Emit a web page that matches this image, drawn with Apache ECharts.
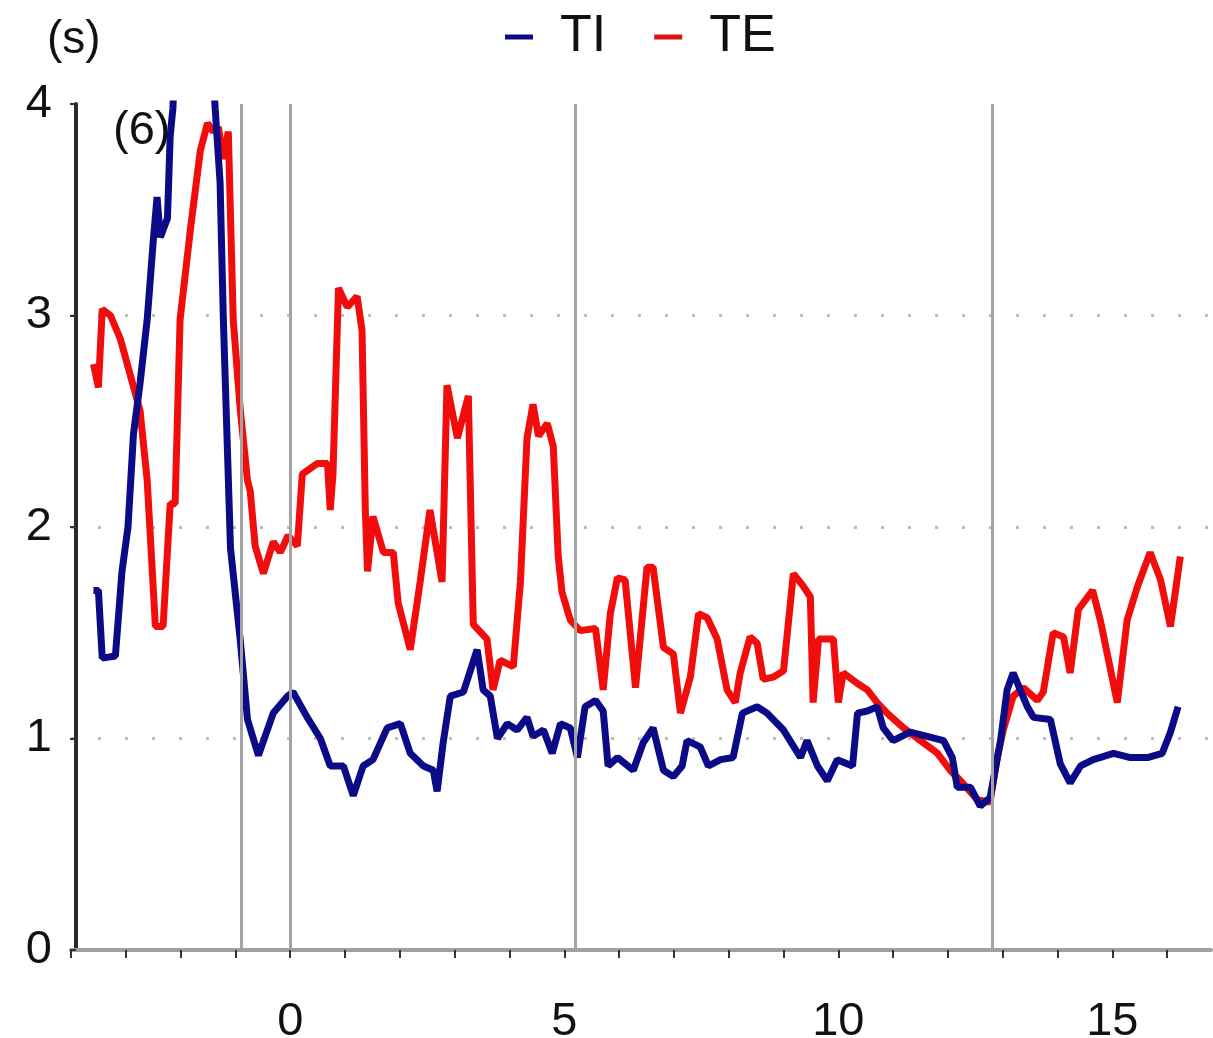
<!DOCTYPE html>
<html>
<head>
<meta charset="utf-8">
<script src="https://cdn.jsdelivr.net/npm/echarts@6/dist/echarts.min.js"></script>
<style>
html,body{margin:0;padding:0;background:#fff;}
#chart{width:1213px;height:1038px;}
</style>
</head>
<body>
<div id="chart"></div>
<script>
// Time axis values (x) and breath durations (s)
const tiTime = [-3.59,-3.50,-3.43,-3.19,-3.07,-2.96,-2.86,-2.74,-2.61,-2.50,-2.43,-2.37,-2.24,-2.19,-2.14,-2.00,-1.80,-1.60,-1.37,-1.28,-1.22,-1.09,-0.91,-0.78,-0.58,-0.31,-0.05,0.05,0.31,0.55,0.73,0.97,1.15,1.33,1.51,1.77,2.01,2.19,2.43,2.61,2.68,2.79,2.92,3.16,3.41,3.52,3.65,3.78,3.96,4.14,4.32,4.43,4.62,4.78,4.93,5.11,5.24,5.38,5.57,5.71,5.80,5.97,6.26,6.44,6.62,6.81,6.99,7.15,7.24,7.48,7.63,7.85,8.08,8.25,8.52,8.70,9.00,9.31,9.43,9.62,9.80,9.98,10.26,10.35,10.53,10.71,10.82,11.00,11.31,11.62,11.92,12.08,12.17,12.41,12.59,12.77,12.96,13.08,13.19,13.45,13.56,13.87,14.05,14.23,14.42,14.65,15.02,15.33,15.64,15.91,16.06,16.20];
const tiValues = [1.70,1.70,1.38,1.39,1.79,2.00,2.44,2.68,2.98,3.35,3.56,3.37,3.46,3.85,3.98,5.0,6.0,5.0,3.98,3.63,2.98,1.90,1.46,1.09,0.92,1.12,1.20,1.22,1.10,1.00,0.87,0.87,0.73,0.87,0.90,1.05,1.07,0.93,0.87,0.85,0.75,0.98,1.20,1.22,1.42,1.23,1.20,1.00,1.07,1.04,1.10,1.01,1.04,0.93,1.07,1.05,0.91,1.15,1.18,1.13,0.87,0.91,0.85,0.98,1.05,0.85,0.82,0.87,0.99,0.96,0.87,0.90,0.91,1.12,1.15,1.12,1.04,0.91,0.99,0.87,0.80,0.90,0.87,1.12,1.13,1.15,1.05,0.99,1.03,1.01,0.99,0.91,0.77,0.77,0.68,0.72,0.99,1.23,1.31,1.15,1.10,1.09,0.88,0.79,0.87,0.90,0.93,0.91,0.91,0.93,1.03,1.15];

const teTime = [-3.59,-3.50,-3.43,-3.28,-3.10,-2.92,-2.74,-2.61,-2.46,-2.32,-2.19,-2.10,-2.01,-1.82,-1.64,-1.51,-1.41,-1.31,-1.22,-1.13,-1.04,-0.91,-0.78,-0.73,-0.64,-0.49,-0.31,-0.18,-0.04,0.13,0.22,0.49,0.68,0.73,0.78,0.88,1.04,1.22,1.31,1.37,1.41,1.51,1.70,1.88,1.97,2.19,2.37,2.55,2.77,2.86,3.05,3.25,3.34,3.59,3.70,3.83,4.07,4.20,4.32,4.43,4.53,4.69,4.80,4.89,4.96,5.11,5.29,5.57,5.71,5.84,5.97,6.11,6.30,6.51,6.62,6.81,6.99,7.12,7.30,7.45,7.61,7.79,7.97,8.12,8.21,8.39,8.52,8.63,8.81,9.00,9.18,9.36,9.49,9.54,9.64,9.91,10.00,10.09,10.35,10.53,10.71,10.89,11.19,11.50,11.81,12.04,12.23,12.54,12.77,12.90,13.01,13.19,13.38,13.63,13.74,13.92,14.11,14.23,14.38,14.64,14.78,15.09,15.27,15.46,15.69,15.88,16.06,16.24];
const teValues = [2.77,2.66,3.03,3.00,2.89,2.72,2.55,2.22,1.53,1.53,2.11,2.11,2.98,3.41,3.78,3.91,3.87,3.89,3.74,3.87,2.98,2.55,2.22,2.17,1.91,1.78,1.93,1.88,1.96,1.91,2.25,2.30,2.30,2.08,2.25,3.13,3.04,3.09,2.93,2.08,1.79,2.05,1.88,1.88,1.64,1.42,1.74,2.08,1.74,2.67,2.42,2.62,1.54,1.47,1.23,1.37,1.34,1.74,2.42,2.58,2.43,2.49,2.38,1.86,1.69,1.56,1.51,1.52,1.23,1.59,1.76,1.75,1.24,1.81,1.81,1.43,1.40,1.12,1.29,1.59,1.57,1.47,1.23,1.17,1.31,1.48,1.45,1.28,1.29,1.32,1.78,1.72,1.67,1.17,1.47,1.47,1.17,1.31,1.26,1.23,1.17,1.12,1.05,0.99,0.93,0.85,0.80,0.71,0.70,0.91,1.04,1.20,1.24,1.18,1.22,1.50,1.48,1.31,1.61,1.70,1.56,1.17,1.56,1.72,1.88,1.75,1.53,1.86];

const markerTimes = [-0.9, 0, 5.2, 12.8];
const xTickLabels = [0, 5, 10, 15];
const yTickLabels = [0, 1, 2, 3, 4];
const seriesNames = ['TI', 'TE'];

const pairs = (xs, ys) => xs.map((x, i) => [x, ys[i]]);
const FONT = 'Liberation Sans, Arial, sans-serif';

const chart = echarts.init(document.getElementById('chart'), null, {renderer: 'canvas'});
chart.setOption({
  animation: false,
  backgroundColor: '#ffffff',
  textStyle: {fontFamily: FONT},
  grid: {left: 71, right: 2, top: 104, bottom: 88, containLabel: false, outerBoundsMode: 'none'},
  legend: {
    data: seriesNames,
    left: 500, top: 6,
    icon: 'rect', itemWidth: 28, itemHeight: 5,
    itemGap: 48,
    textStyle: {fontSize: 52, color: '#111', fontFamily: FONT, padding: [0, 0, 0, 22]}
  },
  graphic: [
    {type: 'text', left: 47, top: 17, z: 0, style: {text: '(s)', fontSize: 46, fill: '#111', fontFamily: FONT}},
    {type: 'text', left: 113, top: 108, z: 0, style: {text: '(6)', fontSize: 47, fill: '#111', fontFamily: FONT}}
  ],
  xAxis: {
    type: 'value', min: -4, max: 16.8, interval: 1,
    axisLine: {show: true, onZero: false, lineStyle: {color: '#a0a0a0', width: 4}},
    axisTick: {show: true, length: 8, lineStyle: {color: '#333', width: 2}},
    axisLabel: {
      fontSize: 47, color: '#111', margin: 49, fontFamily: FONT,
      showMinLabel: true, showMaxLabel: false,
      formatter: v => xTickLabels.includes(Math.round(v * 10) / 10) ? String(Math.round(v)) : ''
    },
    splitLine: {show: false}
  },
  yAxis: {
    type: 'value', min: 0, max: 4, interval: 1, offset: -5,
    axisLine: {show: true, onZero: false, lineStyle: {color: '#2a2a2a', width: 4}},
    axisTick: {show: true, length: 6, lineStyle: {color: '#333', width: 2}},
    axisLabel: {
      fontSize: 47, color: '#111', margin: 24, fontFamily: FONT,
      formatter: v => yTickLabels.includes(v) ? String(v) : ''
    },
    splitLine: {show: true, showMinLine: false, showMaxLine: false,
      lineStyle: {color: '#bdbdbd', width: 3, type: [3, 24]}}
  },
  series: [
    {
      name: 'markers', type: 'line', data: [], z: 1, silent: true,
      markLine: {
        silent: true, symbol: ['none', 'none'], animation: false,
        label: {show: false},
        lineStyle: {color: '#a3a3a3', type: 'solid', width: 3},
        data: markerTimes.map(t => ({xAxis: t}))
      }
    },
    {
      name: 'TE', type: 'line', data: pairs(teTime, teValues), z: 3,
      showSymbol: false, symbol: 'none', clip: true,
      lineStyle: {color: '#f20d0d', width: 7}, itemStyle: {color: '#e01010'}
    },
    {
      name: 'TI', type: 'line', data: pairs(tiTime, tiValues), z: 4,
      showSymbol: false, symbol: 'none', clip: true,
      lineStyle: {color: '#0b0b88', width: 7}, itemStyle: {color: '#0b0b88'}
    }
  ]
});
</script>
</body>
</html>
